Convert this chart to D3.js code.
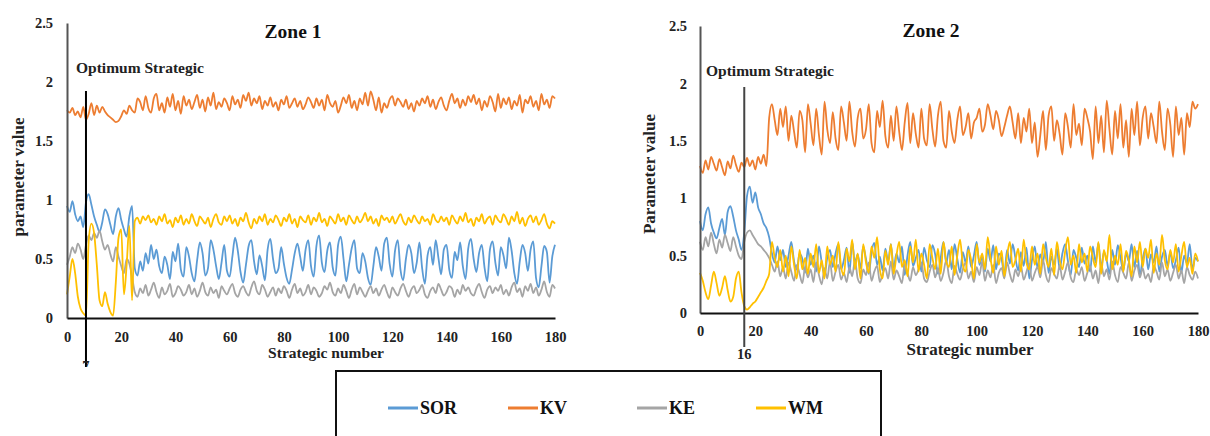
<!DOCTYPE html>
<html><head><meta charset="utf-8">
<script src="https://cdn.jsdelivr.net/npm/d3@7"></script>
<style>
html,body{margin:0;padding:0;background:#fff;}
svg{display:block;}
</style></head>
<body>
<svg id="c" width="1210" height="436"></svg>
<script>
const FONT = "Liberation Serif";
const seriesNames = ["SOR","KV","KE","WM"];
const seriesColors = ["#5B9BD5","#ED7D31","#A5A5A5","#FFC000"];
const xTicks = [0,20,40,60,80,100,120,140,160,180];
const yTicks = [0,0.5,1,1.5,2,2.5];
const zoneTitles = ["Zone 1","Zone 2"];
const optimumIndex = [7,16];

const zone1SOR = [
0.95,0.90,0.99,0.88,0.82,0.86,0.77,0.98,1.05,0.96,
0.86,0.79,0.73,0.81,0.92,0.88,0.79,0.71,0.86,0.93,
0.83,0.75,0.69,0.86,0.95,0.42,0.36,0.48,0.40,0.55,
0.46,0.62,0.50,0.58,0.44,0.38,0.52,0.45,0.33,0.56,
0.48,0.63,0.41,0.35,0.60,0.52,0.38,0.31,0.49,0.64,
0.55,0.36,0.42,0.66,0.58,0.44,0.33,0.47,0.62,0.40,
0.35,0.52,0.68,0.57,0.39,0.30,0.45,0.61,0.66,0.48,
0.37,0.53,0.44,0.32,0.58,0.67,0.50,0.38,0.42,0.60,
0.46,0.34,0.29,0.41,0.55,0.63,0.52,0.40,0.58,0.66,
0.44,0.35,0.61,0.70,0.47,0.39,0.57,0.64,0.43,0.36,
0.62,0.69,0.50,0.31,0.45,0.59,0.66,0.42,0.38,0.55,
0.48,0.34,0.28,0.44,0.60,0.52,0.40,0.63,0.68,0.46,
0.35,0.57,0.66,0.41,0.32,0.50,0.62,0.55,0.38,0.47,
0.64,0.42,0.29,0.53,0.60,0.45,0.66,0.51,0.37,0.58,
0.62,0.41,0.34,0.56,0.49,0.64,0.44,0.33,0.59,0.67,
0.50,0.39,0.55,0.62,0.43,0.31,0.58,0.65,0.47,0.36,
0.60,0.53,0.42,0.68,0.57,0.38,0.29,0.48,0.62,0.55,
0.40,0.58,0.65,0.34,0.26,0.44,0.61,0.56,0.30,0.52,
0.62];
const zone1KV = [
1.76,1.74,1.78,1.72,1.75,1.70,1.79,1.68,1.73,1.82,
1.72,1.80,1.74,1.79,1.75,1.72,1.70,1.68,1.66,1.67,
1.71,1.76,1.73,1.80,1.76,1.74,1.86,1.83,1.76,1.88,
1.78,1.74,1.86,1.90,1.76,1.82,1.74,1.87,1.79,1.90,
1.76,1.84,1.73,1.88,1.80,1.85,1.77,1.83,1.89,1.78,
1.85,1.75,1.87,1.80,1.91,1.77,1.83,1.79,1.86,1.82,
1.76,1.88,1.81,1.85,1.78,1.89,1.84,1.91,1.80,1.86,
1.82,1.88,1.77,1.84,1.80,1.87,1.79,1.83,1.76,1.85,
1.81,1.88,1.78,1.82,1.86,1.79,1.84,1.77,1.81,1.87,
1.83,1.78,1.86,1.80,1.85,1.76,1.89,1.82,1.79,1.84,
1.74,1.80,1.87,1.82,1.89,1.78,1.84,1.76,1.86,1.81,
1.91,1.80,1.92,1.85,1.76,1.87,1.74,1.82,1.78,1.85,
1.88,1.80,1.86,1.83,1.79,1.85,1.77,1.82,1.75,1.84,
1.80,1.86,1.82,1.88,1.79,1.85,1.77,1.83,1.87,1.80,
1.76,1.84,1.90,1.82,1.86,1.78,1.85,1.80,1.88,1.83,
1.89,1.81,1.86,1.76,1.84,1.79,1.88,1.83,1.75,1.90,
1.78,1.86,1.81,1.87,1.77,1.84,1.80,1.89,1.74,1.85,
1.82,1.88,1.79,1.84,1.76,1.90,1.81,1.85,1.78,1.88,
1.86];
const zone1KE = [
0.45,0.52,0.60,0.55,0.63,0.58,0.50,0.62,0.70,0.66,
0.72,0.68,0.74,0.65,0.58,0.62,0.54,0.48,0.60,0.52,
0.44,0.38,0.50,0.46,0.35,0.22,0.18,0.25,0.21,0.28,
0.19,0.24,0.30,0.22,0.17,0.26,0.20,0.23,0.29,0.18,
0.21,0.27,0.24,0.19,0.22,0.28,0.20,0.25,0.18,0.23,
0.30,0.22,0.19,0.26,0.21,0.24,0.17,0.27,0.23,0.20,
0.25,0.29,0.21,0.18,0.24,0.27,0.22,0.19,0.26,0.31,
0.23,0.20,0.28,0.24,0.18,0.22,0.26,0.19,0.25,0.21,
0.27,0.23,0.17,0.24,0.29,0.21,0.25,0.19,0.22,0.28,
0.20,0.26,0.23,0.18,0.21,0.27,0.24,0.30,0.22,0.19,
0.25,0.21,0.28,0.23,0.17,0.24,0.29,0.20,0.26,0.22,
0.18,0.23,0.27,0.21,0.25,0.19,0.24,0.28,0.22,0.17,
0.26,0.22,0.19,0.25,0.29,0.23,0.18,0.24,0.27,0.21,
0.24,0.28,0.20,0.17,0.23,0.26,0.21,0.29,0.24,0.19,
0.22,0.27,0.25,0.18,0.24,0.20,0.28,0.23,0.26,0.21,
0.19,0.25,0.29,0.22,0.17,0.24,0.27,0.21,0.26,0.23,
0.28,0.20,0.24,0.19,0.26,0.30,0.22,0.25,0.18,0.27,
0.23,0.29,0.21,0.26,0.19,0.24,0.31,0.22,0.18,0.28,
0.25];
const zone1WM = [
0.20,0.35,0.50,0.38,0.18,0.08,0.04,0.02,0.65,0.80,
0.72,0.45,0.15,0.10,0.22,0.12,0.05,0.02,0.30,0.68,
0.75,0.20,0.45,0.78,0.15,0.82,0.85,0.80,0.86,0.83,
0.87,0.81,0.84,0.79,0.86,0.82,0.88,0.80,0.83,0.77,
0.85,0.81,0.87,0.79,0.84,0.80,0.88,0.82,0.78,0.86,
0.83,0.80,0.85,0.77,0.84,0.88,0.81,0.79,0.86,0.82,
0.87,0.80,0.84,0.78,0.85,0.82,0.89,0.81,0.76,0.84,
0.80,0.86,0.82,0.88,0.79,0.84,0.81,0.87,0.83,0.78,
0.85,0.82,0.88,0.80,0.84,0.77,0.86,0.83,0.81,0.87,
0.79,0.85,0.82,0.89,0.81,0.84,0.78,0.86,0.83,0.80,
0.88,0.82,0.85,0.79,0.87,0.83,0.80,0.86,0.81,0.84,
0.89,0.82,0.86,0.80,0.84,0.78,0.87,0.83,0.85,0.81,
0.86,0.80,0.84,0.88,0.82,0.79,0.85,0.81,0.87,0.83,
0.80,0.86,0.82,0.84,0.79,0.88,0.83,0.81,0.86,0.82,
0.85,0.79,0.87,0.83,0.80,0.86,0.82,0.89,0.81,0.84,
0.78,0.85,0.82,0.88,0.80,0.84,0.86,0.79,0.87,0.83,
0.81,0.88,0.84,0.79,0.86,0.82,0.90,0.80,0.85,0.78,
0.84,0.87,0.81,0.86,0.79,0.83,0.88,0.80,0.76,0.82,
0.80];

const zone2SOR = [
0.80,0.72,0.86,0.92,0.78,0.70,0.65,0.74,0.82,0.68,
0.88,0.93,0.84,0.72,0.64,0.55,0.70,1.02,1.10,0.96,
1.05,0.92,0.86,0.78,0.74,0.66,0.52,0.44,0.58,0.46,
0.55,0.40,0.50,0.62,0.45,0.38,0.52,0.47,0.35,0.56,
0.42,0.50,0.36,0.58,0.44,0.33,0.48,0.55,0.40,0.52,
0.60,0.38,0.46,0.57,0.35,0.62,0.44,0.51,0.39,0.58,
0.47,0.34,0.53,0.61,0.42,0.49,0.37,0.56,0.45,0.60,
0.39,0.52,0.44,0.58,0.33,0.50,0.62,0.41,0.48,0.55,
0.36,0.57,0.46,0.40,0.59,0.51,0.34,0.48,0.62,0.43,
0.55,0.38,0.60,0.47,0.35,0.53,0.44,0.58,0.40,0.50,
0.62,0.42,0.49,0.36,0.56,0.45,0.59,0.38,0.52,0.47,
0.34,0.55,0.43,0.60,0.48,0.37,0.53,0.41,0.57,0.30,
0.46,0.58,0.39,0.51,0.44,0.62,0.35,0.49,0.42,0.56,
0.38,0.52,0.60,0.45,0.33,0.55,0.48,0.40,0.57,0.43,
0.50,0.36,0.58,0.44,0.61,0.39,0.53,0.46,0.34,0.55,
0.42,0.59,0.48,0.37,0.52,0.45,0.60,0.40,0.54,0.33,
0.47,0.56,0.38,0.51,0.44,0.58,0.36,0.49,0.55,0.41,
0.53,0.39,0.46,0.57,0.35,0.50,0.43,0.60,0.38,0.48,
0.45];
const zone2KV = [
1.28,1.22,1.33,1.25,1.36,1.30,1.24,1.34,1.27,1.20,
1.32,1.26,1.37,1.29,1.23,1.31,1.27,1.35,1.28,1.33,
1.25,1.36,1.30,1.38,1.28,1.70,1.82,1.68,1.55,1.78,
1.62,1.80,1.50,1.72,1.58,1.44,1.76,1.68,1.40,1.82,
1.65,1.46,1.78,1.55,1.38,1.84,1.60,1.48,1.75,1.52,
1.42,1.80,1.66,1.50,1.84,1.58,1.45,1.70,1.78,1.52,
1.60,1.82,1.48,1.40,1.76,1.62,1.85,1.54,1.44,1.72,
1.50,1.80,1.58,1.42,1.66,1.83,1.48,1.74,1.56,1.44,
1.78,1.52,1.46,1.82,1.60,1.45,1.72,1.84,1.50,1.44,
1.76,1.58,1.48,1.68,1.80,1.55,1.62,1.74,1.52,1.66,
1.70,1.78,1.58,1.64,1.82,1.72,1.60,1.76,1.68,1.54,
1.62,1.72,1.80,1.66,1.52,1.74,1.48,1.70,1.58,1.78,
1.48,1.66,1.36,1.55,1.76,1.42,1.72,1.80,1.50,1.68,
1.56,1.38,1.74,1.62,1.44,1.82,1.55,1.65,1.46,1.78,
1.70,1.58,1.34,1.80,1.48,1.72,1.40,1.85,1.60,1.38,
1.76,1.52,1.82,1.44,1.68,1.36,1.78,1.55,1.84,1.46,
1.70,1.80,1.52,1.74,1.62,1.48,1.84,1.58,1.42,1.78,
1.64,1.36,1.80,1.55,1.70,1.38,1.74,1.62,1.84,1.78,
1.82];
const zone2KE = [
0.62,0.55,0.66,0.58,0.70,0.60,0.52,0.64,0.57,0.68,
0.61,0.54,0.66,0.58,0.50,0.47,0.62,0.70,0.72,0.68,
0.64,0.60,0.58,0.55,0.52,0.48,0.42,0.36,0.45,0.32,
0.40,0.30,0.44,0.36,0.28,0.42,0.34,0.26,0.40,0.31,
0.38,0.27,0.44,0.33,0.25,0.39,0.30,0.45,0.28,0.36,
0.42,0.29,0.35,0.27,0.40,0.32,0.46,0.30,0.26,0.38,
0.33,0.44,0.28,0.36,0.41,0.27,0.34,0.39,0.30,0.45,
0.29,0.37,0.32,0.26,0.43,0.35,0.28,0.40,0.33,0.38,
0.44,0.30,0.27,0.36,0.42,0.31,0.39,0.28,0.35,0.46,
0.32,0.26,0.41,0.34,0.29,0.38,0.44,0.30,0.36,0.27,
0.40,0.33,0.45,0.28,0.37,0.31,0.42,0.26,0.35,0.39,
0.30,0.44,0.34,0.27,0.38,0.32,0.41,0.29,0.36,0.43,
0.28,0.35,0.40,0.31,0.46,0.33,0.27,0.39,0.34,0.30,
0.42,0.29,0.36,0.44,0.31,0.27,0.38,0.33,0.40,0.28,
0.35,0.41,0.30,0.37,0.26,0.43,0.32,0.38,0.29,0.45,
0.33,0.27,0.40,0.35,0.30,0.44,0.28,0.37,0.42,0.31,
0.39,0.30,0.34,0.27,0.41,0.36,0.29,0.44,0.32,0.38,
0.28,0.35,0.42,0.30,0.37,0.26,0.40,0.33,0.29,0.36,
0.30];
const zone2WM = [
0.35,0.28,0.18,0.12,0.24,0.36,0.26,0.15,0.22,0.32,
0.20,0.10,0.14,0.30,0.36,0.18,0.06,0.03,0.05,0.08,
0.10,0.14,0.18,0.22,0.28,0.34,0.62,0.48,0.40,0.55,
0.36,0.50,0.32,0.58,0.42,0.30,0.55,0.38,0.48,0.34,
0.52,0.40,0.60,0.35,0.46,0.30,0.58,0.42,0.50,0.36,
0.62,0.40,0.33,0.56,0.45,0.64,0.38,0.52,0.30,0.60,
0.44,0.35,0.58,0.48,0.66,0.38,0.30,0.54,0.42,0.60,
0.34,0.50,0.62,0.40,0.46,0.32,0.58,0.44,0.64,0.36,
0.52,0.42,0.30,0.60,0.48,0.38,0.56,0.34,0.62,0.45,
0.40,0.58,0.33,0.50,0.64,0.42,0.36,0.55,0.46,0.30,
0.60,0.44,0.52,0.38,0.66,0.48,0.35,0.58,0.42,0.54,
0.32,0.50,0.62,0.40,0.46,0.56,0.36,0.64,0.44,0.38,
0.58,0.42,0.52,0.34,0.60,0.48,0.40,0.56,0.33,0.62,
0.46,0.38,0.54,0.66,0.42,0.50,0.35,0.60,0.44,0.52,
0.36,0.58,0.48,0.40,0.62,0.34,0.55,0.45,0.68,0.38,
0.50,0.42,0.60,0.36,0.54,0.46,0.32,0.58,0.44,0.62,
0.40,0.56,0.48,0.64,0.35,0.52,0.42,0.68,0.46,0.38,
0.55,0.44,0.60,0.36,0.50,0.62,0.40,0.48,0.34,0.52,
0.45];

const zones = [
  {title: zoneTitles[0], opt: optimumIndex[0], ylabel: "parameter value", series: [zone1SOR, zone1KV, zone1KE, zone1WM]},
  {title: zoneTitles[1], opt: optimumIndex[1], ylabel: "Parameter value", series: [zone2SOR, zone2KV, zone2KE, zone2WM]}
];

const layouts = [
  {x0: 67, x1: 555, yTop: 23, yBot: 318, titleX: 293, titleY: 38, optX: 76, optY: 73,
   vTop: 91, vBot: 372, ylabX: 24, ylabY: 177, xlabX: 326, xlabY: 358, xlabSize: 15.5, optLabY: 371,
   yPad: 14, xPad: 14, lineColor: "#000", clipBottom: 367},
  {x0: 700, x1: 1198, yTop: 26, yBot: 313, titleX: 931, titleY: 37, optX: 706, optY: 76,
   vTop: 87, vBot: 347, ylabX: 655, ylabY: 174, xlabX: 970, xlabY: 355, xlabSize: 17, optLabY: 359,
   yPad: 13, xPad: 13, lineColor: "#444", clipBottom: 436}
];

const svg = d3.select("#c");
svg.append("defs").selectAll("clipPath").data(layouts).join("clipPath")
  .attr("id", (d,i) => "clip"+i)
  .append("rect").attr("x", 0).attr("y", 0).attr("width", 1210).attr("height", d => d.clipBottom);

function txt(sel, size) {
  return sel.attr("font-family", FONT).style("font-family", FONT).attr("font-weight","bold")
    .attr("font-size", size).attr("fill","#222");
}

zones.forEach((z, zi) => {
  const L = layouts[zi];
  const g = svg.append("g").attr("clip-path", `url(#clip${zi})`);
  const x = d3.scaleLinear().domain([0,180]).range([L.x0, L.x1]);
  const y = d3.scaleLinear().domain([0,2.5]).range([L.yBot, L.yTop]);

  const line = d3.line().x((d,i) => x(i)).y(d => y(d)).curve(d3.curveMonotoneX);
  z.series.forEach((s, si) => {
    g.append("path").datum(s)
      .attr("fill","none").attr("stroke", seriesColors[si])
      .attr("stroke-width", 1.8).attr("stroke-linejoin","round")
      .attr("d", line);
  });

  const yAxis = d3.axisLeft(y).tickValues(yTicks).tickSize(0).tickPadding(L.yPad).tickFormat(d => String(d));
  const ya = g.append("g").attr("transform", `translate(${L.x0},0)`).call(yAxis);
  ya.select(".domain").attr("stroke", "#555").attr("stroke-width", 2);
  txt(ya.selectAll("text"), 14.5);

  const xAxis = d3.axisBottom(x).tickValues(xTicks).tickSize(0).tickPadding(L.xPad).tickFormat(d => String(d));
  const xa = g.append("g").attr("transform", `translate(0,${L.yBot})`).call(xAxis);
  xa.select(".domain").attr("stroke", "#111").attr("stroke-width", 2);
  txt(xa.selectAll("text"), 14.5);

  g.append("line").attr("x1", x(z.opt)).attr("x2", x(z.opt)).attr("y1", L.vTop).attr("y2", L.vBot)
    .attr("stroke", L.lineColor).attr("stroke-width", 2);
  txt(g.append("text").attr("x", x(z.opt)).attr("y", L.optLabY).attr("text-anchor","middle"), 14.5).text(String(z.opt));
  txt(g.append("text").attr("x", L.optX).attr("y", L.optY), 15.5).text("Optimum Strategic");
  txt(g.append("text").attr("x", L.titleX).attr("y", L.titleY).attr("text-anchor","middle"), 19.5).attr("fill","#111").text(z.title);
  txt(g.append("text").attr("transform", `translate(${L.ylabX},${L.ylabY}) rotate(-90)`).attr("text-anchor","middle"), 17).text(z.ylabel);
  txt(g.append("text").attr("x", L.xlabX).attr("y", L.xlabY).attr("text-anchor","middle"), L.xlabSize).text("Strategic number");
});

const lg = svg.append("g");
lg.append("rect").attr("x", 336).attr("y", 371).attr("width", 545).attr("height", 80)
  .attr("fill","#fff").attr("stroke","#111").attr("stroke-width", 2);
const legendX = [388, 508, 637, 756];
seriesNames.forEach((n, i) => {
  lg.append("line").attr("x1", legendX[i]).attr("x2", legendX[i] + 30).attr("y1", 408).attr("y2", 408)
    .attr("stroke", seriesColors[i]).attr("stroke-width", 3);
  txt(lg.append("text").attr("x", legendX[i] + 32).attr("y", 414), 18).attr("fill","#111").text(n);
});
</script>
</body></html>
